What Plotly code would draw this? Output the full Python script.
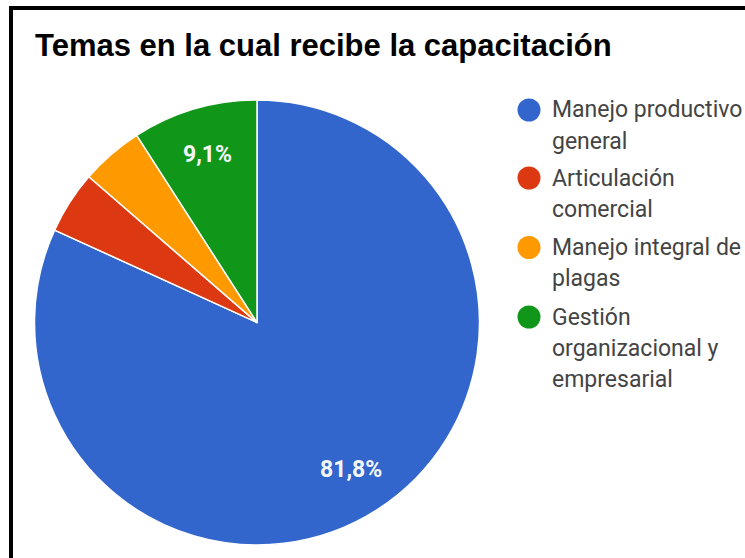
import math
import plotly.graph_objects as go

W, H = 745, 558

title = "Temas en la cual recibe la capacitación"
labels = ["Manejo productivo general", "Articulación comercial",
          "Manejo integral de plagas", "Gestión organizacional y empresarial"]
legend_lines = [["Manejo productivo", "general"],
                ["Articulación", "comercial"],
                ["Manejo integral de", "plagas"],
                ["Gestión", "organizacional y", "empresarial"]]
values = [18, 1, 1, 2]
colors = ["#3366cc", "#dc3912", "#ff9900", "#109618"]

# pie geometry in page pixels
cx, cy, r = 257.0, 322.5, 222.5

def px(x):
    return x / W

def py(y):
    return 1 - y / H

fig = go.Figure(go.Pie(
    labels=labels, values=values, sort=False, direction="clockwise", rotation=0,
    marker=dict(colors=colors, line=dict(color="white", width=1.5)),
    textinfo="none", hoverinfo="label+percent", showlegend=False,
    domain=dict(x=[px(cx - r), px(cx + r)], y=[py(cy + r), py(cy - r)]),
))

annotations = []
shapes = []

# slice labels (hide slices under 5%)
total = sum(values)
cum = 0
for v in values:
    frac = v / total
    mid = (cum + frac / 2) * 2 * math.pi
    cum += frac
    if frac < 0.05:
        continue
    d = 0.785 * r
    lx = cx + d * math.sin(mid)
    ly = cy - d * math.cos(mid)
    txt = f"{frac*100:.1f}%".replace(".", ",")
    annotations.append(dict(x=px(lx), y=py(ly), xref="paper", yref="paper",
                            text=f"<b>{txt}</b>", showarrow=False,
                            font=dict(family="Roboto", size=23, color="#f4f6fb"),
                            xanchor="center", yanchor="middle"))

# title
annotations.append(dict(x=px(33), y=py(45), xref="paper", yref="paper",
                        text=f"<b>{title}</b>", showarrow=False,
                        font=dict(family="Liberation Sans, Arial", size=31, color="#000000"),
                        xanchor="left", yanchor="middle"))

# legend
first_y = [110, 178, 247.5, 317]
line_gap = 31
for i, lines in enumerate(legend_lines):
    y0 = first_y[i]
    shapes.append(dict(type="circle", xref="paper", yref="paper",
                       x0=px(529 - 11.5), x1=px(529 + 11.5),
                       y0=py(y0 + 11.5), y1=py(y0 - 11.5),
                       fillcolor=colors[i], line=dict(width=0)))
    for j, ln in enumerate(lines):
        annotations.append(dict(x=px(550), y=py(y0 + j * line_gap), xref="paper", yref="paper",
                                text=ln, showarrow=False,
                                font=dict(family="Roboto", size=23, color="#444444"),
                                xanchor="left", yanchor="middle"))

# frame
shapes.append(dict(type="rect", xref="paper", yref="paper",
                   x0=px(11), x1=px(W + 20), y0=py(H + 20), y1=py(8),
                   line=dict(color="black", width=4), fillcolor="rgba(0,0,0,0)"))

fig.update_layout(width=W, height=H, margin=dict(l=0, r=0, t=0, b=0),
                  paper_bgcolor="white", plot_bgcolor="white",
                  annotations=annotations, shapes=shapes)
fig.write_html("out.html",
               config={"displayModeBar": False},
               post_script="document.body.style.margin='0';"
                           "document.body.style.overflow='hidden';"
                           "document.documentElement.style.overflow='hidden';")
